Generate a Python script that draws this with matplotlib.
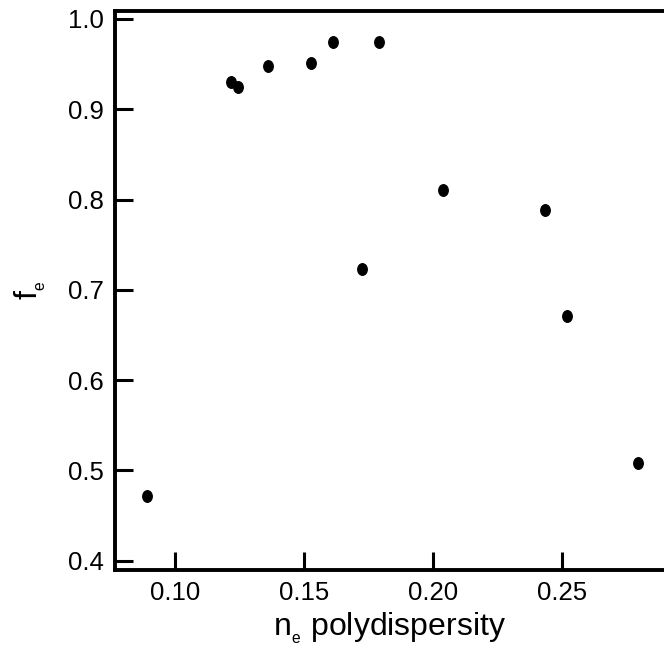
import matplotlib
matplotlib.use("Agg")
import matplotlib.pyplot as plt
from matplotlib.path import Path
from matplotlib.transforms import Affine2D

plt.rcParams['font.family'] = ['Liberation Sans', 'DejaVu Sans']
plt.rcParams['mathtext.fontset'] = 'custom'
plt.rcParams['mathtext.rm'] = 'Liberation Sans'
plt.rcParams['mathtext.it'] = 'Liberation Sans:italic'

# polydispersity of n_e vs f_e
polydispersity = [0.0890, 0.1217, 0.1246, 0.1362, 0.1526, 0.1612,
                  0.1791, 0.1727, 0.2038, 0.2436, 0.2522, 0.2796]
f_e = [0.4716, 0.9299, 0.9250, 0.9480, 0.9513, 0.9742,
       0.9742, 0.7234, 0.8103, 0.7884, 0.6714, 0.5082]

xticks = [0.10, 0.15, 0.20, 0.25]
yticks = [0.4, 0.5, 0.6, 0.7, 0.8, 0.9, 1.0]

fig = plt.figure(figsize=(6.64, 6.49), dpi=100)
ax = fig.add_axes([0.1729, 0.1217, 0.8271, 0.8617])

# slightly tall dots like the original
ellipse = Path.unit_circle().transformed(Affine2D().scale(0.82, 1.0))
ax.plot(polydispersity, f_e, linestyle='none', marker=ellipse,
        markersize=8.3, color='black')

ax.set_xlim(0.07665, 0.2897)
ax.set_ylim(0.3897, 1.0091)
ax.set_xticks(xticks)
ax.set_xticklabels(['%.2f' % v for v in xticks])
ax.set_yticks(yticks)
ax.set_yticklabels(['%.1f' % v for v in yticks])

for side in ['left', 'bottom', 'top']:
    ax.spines[side].set_linewidth(2.8)
ax.spines['right'].set_visible(False)

ax.tick_params(direction='in', length=13, width=2.2, labelsize=18.5, pad=8,
               colors='black')

ax.set_xlabel(r'n$_{{}_{\mathrm{e}}}$ polydispersity', fontsize=23, labelpad=4)
ax.set_ylabel(r'f$_{{}_{\mathrm{e}}}$', fontsize=23, labelpad=14)

fig.savefig('out.png', dpi=100)
